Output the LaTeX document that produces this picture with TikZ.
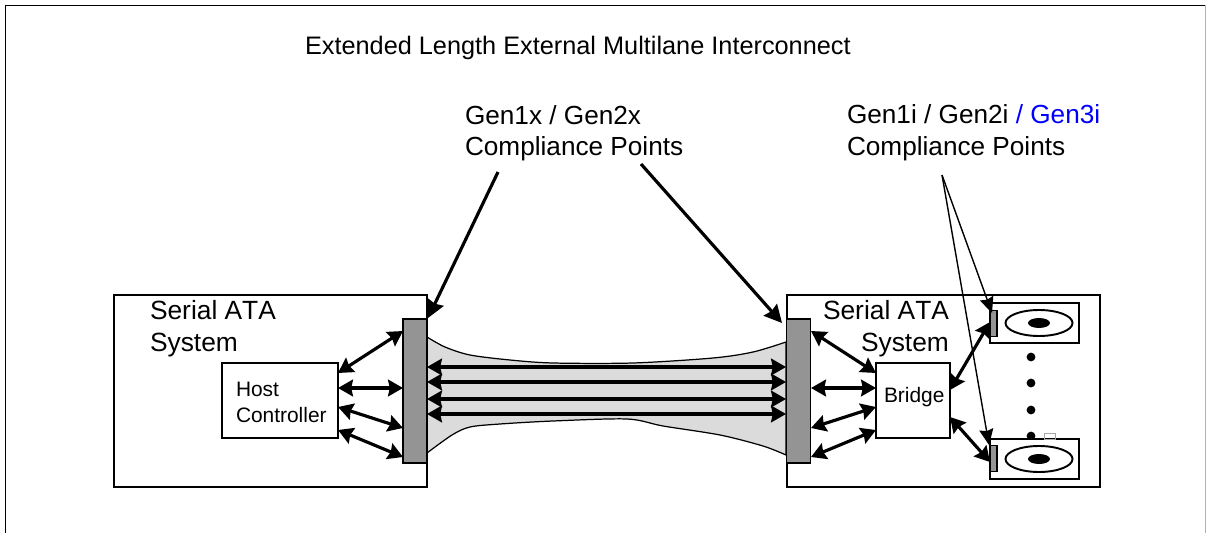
\documentclass[tikz,border=0pt]{standalone}
\usepackage{xcolor}
\usepackage{fontspec}
\setmainfont[Kerning=Off]{Liberation Sans}
\usetikzlibrary{arrows.meta,positioning,calc,shapes.geometric}

\definecolor{barfill}{gray}{0.58}
\definecolor{cablefill}{gray}{0.86}
\definecolor{genblue}{RGB}{0,0,255}

\begin{document}
\begin{tikzpicture}[x=0.02cm, y=-0.02cm, line join=miter,
    box/.style={rectangle, draw, line width=1.1pt, inner sep=0pt, outer sep=0pt, fill=white},
    pad/.style={rectangle, draw, line width=0.9pt, fill=barfill, inner sep=0pt, outer sep=0pt},
    label/.style={inner sep=0pt, outer sep=0pt, anchor=base west},
    biglabel/.style={label, font=\fontsize{14.9}{18}\selectfont},
    namelabel/.style={label, font=\fontsize{15}{18}\selectfont},
    smalllabel/.style={label, font=\fontsize{11.9}{14}\selectfont},
    link/.style={{Stealth[length=8.5pt,width=9.5pt,inset=1pt]}-{Stealth[length=8.5pt,width=9.5pt,inset=1pt]}, line width=1.8pt},
    callout/.style={-{Stealth[length=10pt,width=10pt,inset=1pt]}, line width=1.8pt},
    thinout/.style={-{Stealth[length=9pt,width=8pt,inset=1pt]}, line width=0.8pt},
    dot/.style={circle, fill=black, inner sep=0pt, minimum size=5pt}]

    \useasboundingbox (0,0) rectangle (1206,533);

    % Outer frame
    \draw[line width=1.1pt] (5.5,533) -- (5.5,5.5) -- (1205.5,5.5);
    \draw[line width=0.4pt, black!30] (1205.5,5.5) -- (1205.5,533);

    % Systems
    \node[box, minimum width=313*0.02cm, minimum height=192*0.02cm] (leftsys) at (270.5,391) {};
    \node[box, minimum width=313*0.02cm, minimum height=192*0.02cm] (rightsys) at (943.5,391) {};

    % Cable
    \draw[line width=0.7pt, fill=cablefill] plot[smooth, tension=0.5] coordinates {(427,337) (445,347) (470,355) (510,360) (553,363) (633,363) (713,358) (753,352) (786,342)}
        -- plot[smooth, tension=0.5] coordinates {(786,455) (763,446) (720,435) (663,426) (627,419) (553,421) (500,424) (470,427) (452,435) (427,453)} -- cycle;

    % Compliance bars
    \node[pad, minimum width=24*0.02cm, minimum height=144*0.02cm] (leftbar) at (415,391) {};
    \node[pad, minimum width=24*0.02cm, minimum height=144*0.02cm] (rightbar) at (798.5,391) {};

    % Inner blocks
    \node[box, minimum width=116*0.02cm, minimum height=75*0.02cm] (host) at (280,400.5) {};
    \node[box, minimum width=74*0.02cm, minimum height=75*0.02cm] (bridge) at (913,400.5) {};

    % Drives
    \node[box, minimum width=89*0.02cm, minimum height=40*0.02cm] (drivetop) at (1034.5,323) {};
    \node[box, minimum width=89*0.02cm, minimum height=40*0.02cm] (drivebot) at (1034.5,459) {};
    \node[pad, minimum width=7*0.02cm, minimum height=26*0.02cm] (padtop) at (993.5,323.5) {};
    \node[pad, minimum width=7*0.02cm, minimum height=26*0.02cm] (padbot) at (993.5,458.5) {};
    \foreach \d/\y in {top/323, bot/459} {
        \node[ellipse, draw, line width=1.1pt, minimum width=67*0.02cm, minimum height=26*0.02cm, inner sep=0pt] (disc\d) at (1039,\y) {};
        \node[ellipse, fill=black, minimum width=22*0.02cm, minimum height=10*0.02cm, inner sep=0pt] (hub\d) at (1039,\y) {};
    }

    % Dots between drives
    \node[dot] (dota) at (1031,357) {};
    \node[dot] (dotb) at (1031,383) {};
    \node[dot] (dotc) at (1031,410) {};
    \begin{scope}
        \clip (1000,425) rectangle (1060,438);
        \node[dot] (dotd) at (1031,436) {};
    \end{scope}
    \node[rectangle, draw=black!35, line width=0.4pt, minimum width=11*0.02cm, minimum height=6*0.02cm, inner sep=0pt] (stub) at (1049.5,436) {};

    % Anchor points on the blocks
    \coordinate (hosta) at (338,373);
    \coordinate (hostb) at (338,388);
    \coordinate (hostc) at (338,407);
    \coordinate (hostd) at (338,430);
    \coordinate (lbara) at (403,331);
    \coordinate (lbarb) at (403,388);
    \coordinate (lbarc) at (403,428);
    \coordinate (lbard) at (403,457);
    \coordinate (rbara) at (811,331);
    \coordinate (rbarb) at (811,388);
    \coordinate (rbarc) at (811,428);
    \coordinate (rbard) at (811,457);
    \coordinate (brga) at (876,373);
    \coordinate (brgb) at (876,388);
    \coordinate (brgc) at (876,407);
    \coordinate (brgd) at (876,430);

    % Arrows
    \foreach \a in {a,b,c,d} {
        \draw[link] (host\a) -- (lbar\a);
        \draw[link] (rbar\a) -- (brg\a);
    }
    \foreach \n/\y in {a/367,b/382,c/399,d/414} {
        \coordinate (cabl\n) at (427,\y);
        \coordinate (cabr\n) at (786,\y);
        \draw[link] (cabl\n) -- (cabr\n);
    }
    \coordinate (brgtop) at (950,390);
    \coordinate (brgbot) at (950,417);
    \coordinate (padtopin) at (990,322);
    \coordinate (padbotin) at (990,462);
    \draw[link] (brgtop) -- (padtopin);
    \draw[link] (brgbot) -- (padbotin);

    % Text
    \node[biglabel, font=\fontsize{14.4}{18}\selectfont] (title) at (305,55) {Extended Length External Multilane Interconnect};
    \node[biglabel] (gena) at (465,125) {Gen1x / Gen2x};
    \node[biglabel] (genb) at (465,156) {Compliance Points};
    \node[biglabel] (genc) at (847,124) {Gen1i / Gen2i \textcolor{genblue}{/ Gen3i}};
    \node[biglabel] (gend) at (847,156) {Compliance Points};
    \node[namelabel] (leftname) at (150,319) {Serial ATA};
    \node[namelabel] (leftsecond) at (150,351) {System};
    \node[namelabel] (rightname) at (823,319) {Serial ATA};
    \node[namelabel] (rightsecond) at (861,351) {System};
    \node[smalllabel] (hostname) at (236,396) {Host};
    \node[smalllabel] (hostsecond) at (236,422) {Controller};
    \node[smalllabel] (bridgename) at (884,402) {Bridge};

    % Callouts
    \coordinate (gxa) at (498,172);
    \coordinate (gxb) at (641,164);
    \coordinate (gia) at (942,175);
    \coordinate (lbartip) at (428,318);
    \coordinate (rbartip) at (782,323);
    \coordinate (padtoptip) at (992,313);
    \coordinate (padbottip) at (989,445);
    \draw[callout] (gxa) -- (lbartip);
    \draw[callout] (gxb) -- (rbartip);
    \draw[thinout] (gia) -- (padtoptip);
    \draw[thinout] (gia) -- (padbottip);

\end{tikzpicture}
\end{document}
